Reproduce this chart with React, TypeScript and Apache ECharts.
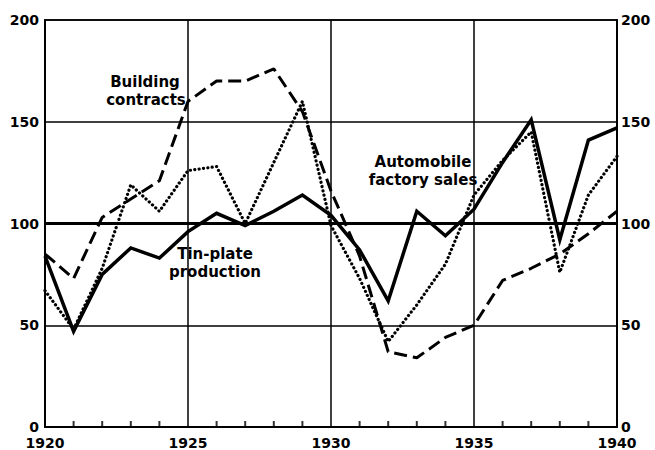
import React, { useEffect, useRef } from "react";
import * as echarts from "echarts";

const years = [1920, 1921, 1922, 1923, 1924, 1925, 1926, 1927, 1928, 1929, 1930, 1931, 1932, 1933, 1934, 1935, 1936, 1937, 1938, 1939, 1940];
const tinPlate = [84, 47, 75, 88, 83, 96, 105, 99, 106, 114, 104, 87, 62, 106, 94, 107, 130, 151, 92, 141, 147];
const building = [85, 73, 103, 112, 121, 160, 170, 170, 176, 155, 116, 84, 37, 34, 44, 50, 72, 78, 85, 95, 106];
const auto = [67, 48, 78, 119, 106, 126, 128, 100, 130, 160, 99, 73, 42, 60, 80, 114, 131, 145, 76, 114, 133];
const yTicks = [0, 50, 100, 150, 200];

const FONT = "'DejaVu Sans', sans-serif";
const ANNO_FONT = "'DejaVu Sans', sans-serif";

export default function App() {
  const ref = useRef<HTMLDivElement>(null);
  useEffect(() => {
    document.body.style.margin = "0";
    const chart = echarts.init(ref.current!, undefined, { renderer: "svg" });
    const pairs = (arr: number[]) => years.map((y, i) => [y, arr[i]]);
    const axisLabel = { color: "#000", fontFamily: FONT, fontWeight: "bold" as const, fontSize: 14 };
    const anno = (text: string, x: number, y: number) => ({
      type: "text",
      x,
      y,
      z: 10,
      style: { text, font: `bold 15px ${ANNO_FONT}`, fill: "#000", align: "center", verticalAlign: "middle" },
    });
    const minorTickData = years.filter((y) => y % 5 !== 0).map((y) => [y, 0]);
    chart.setOption({
      animation: false,
      backgroundColor: "#fff",
      grid: { left: 45, right: 38, top: 20, bottom: 23, show: true, borderColor: "#000", borderWidth: 1.5 },
      xAxis: {
        type: "value",
        min: 1920,
        max: 1940,
        interval: 5,
        axisLine: { show: true, lineStyle: { color: "#000", width: 2 } },
        axisTick: { show: false },
        splitLine: { show: true, lineStyle: { color: "#000", width: 1.5 } },
        axisLabel: { ...axisLabel, margin: 9, formatter: (v: number) => String(v) },
      },
      yAxis: [
        {
          type: "value",
          min: yTicks[0],
          max: yTicks[yTicks.length - 1],
          interval: 50,
          position: "left",
          axisLine: { show: true, lineStyle: { color: "#000", width: 2 } },
          axisTick: { show: false },
          splitLine: { show: true, lineStyle: { color: "#000", width: 1.5 } },
          axisLabel: { ...axisLabel, margin: 6 },
        },
        {
          type: "value",
          min: yTicks[0],
          max: yTicks[yTicks.length - 1],
          interval: 50,
          position: "right",
          axisLine: { show: true, lineStyle: { color: "#000", width: 2 } },
          axisTick: { show: false },
          splitLine: { show: false },
          axisLabel: { ...axisLabel, margin: 4 },
        },
      ],
      series: [
        {
          name: "Tin-plate production",
          type: "line",
          data: pairs(tinPlate),
          symbol: "none",
          lineStyle: { color: "#000", width: 3.5, join: "miter" },
          z: 5,
          markLine: {
            silent: true,
            symbol: "none",
            label: { show: false },
            lineStyle: { color: "#000", width: 3, type: "solid" },
            data: [{ yAxis: 100 }],
          },
        },
        {
          name: "Building contracts",
          type: "line",
          data: pairs(building),
          symbol: "none",
          lineStyle: { color: "#000", width: 3, type: [13, 6] },
          z: 4,
        },
        {
          name: "Automobile factory sales",
          type: "line",
          data: pairs(auto),
          symbol: "none",
          lineStyle: { color: "#000", width: 3.2, type: [0.1, 4.3], cap: "round" },
          z: 4,
        },
        {
          name: "year ticks",
          type: "scatter",
          data: minorTickData,
          symbol: "rect",
          symbolSize: [2, 6],
          symbolOffset: [0, -3],
          clip: false,
          silent: true,
          itemStyle: { color: "#000" },
          z: 6,
        },
      ],
      graphic: [
        anno("Building", 145, 82),
        anno("contracts", 146, 100),
        anno("Tin-plate", 215, 254),
        anno("production", 215, 272),
        anno("Automobile", 423, 162),
        anno("factory sales", 423, 180),
      ],
    });
    return () => chart.dispose();
  }, []);
  return <div ref={ref} style={{ width: 655, height: 450 }} />;
}
